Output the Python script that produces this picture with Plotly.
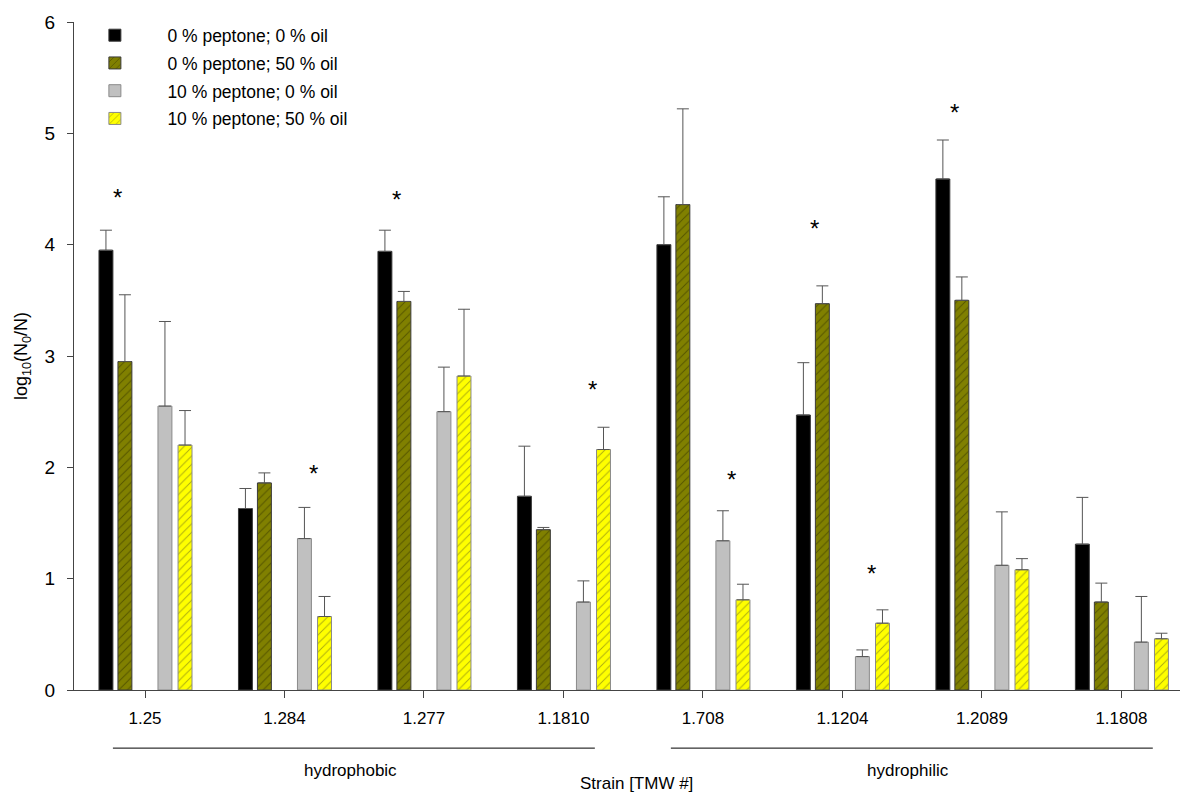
import plotly.graph_objects as go

strains = ["1.25", "1.284", "1.277", "1.1810", "1.708", "1.1204", "1.2089", "1.1808"]

# mean log10 reduction per treatment
p0_oil0 = [3.95, 1.63, 3.94, 1.74, 4.00, 2.47, 4.59, 1.31]
p0_oil50 = [2.95, 1.86, 3.49, 1.44, 4.36, 3.47, 3.50, 0.79]
p10_oil0 = [2.55, 1.36, 2.50, 0.79, 1.34, 0.30, 1.12, 0.43]
p10_oil50 = [2.20, 0.66, 2.82, 2.16, 0.81, 0.60, 1.08, 0.46]

# upper standard deviations
sd_p0_oil0 = [0.18, 0.18, 0.19, 0.45, 0.43, 0.47, 0.35, 0.42]
sd_p0_oil50 = [0.60, 0.09, 0.09, 0.02, 0.86, 0.16, 0.21, 0.17]
sd_p10_oil0 = [0.76, 0.28, 0.40, 0.19, 0.27, 0.06, 0.48, 0.41]
sd_p10_oil50 = [0.31, 0.18, 0.60, 0.20, 0.14, 0.12, 0.10, 0.05]

series_names = ["0 % peptone; 0 % oil", "0 % peptone; 50 % oil",
                "10 % peptone; 0 % oil", "10 % peptone; 50 % oil"]

# significance marks: (strain, pair, height); pair 0 = no peptone, 1 = 10 % peptone
sig_strain = ["1.25", "1.284", "1.277", "1.1810", "1.708", "1.1204", "1.1204", "1.2089"]
sig_pair = [0, 1, 0, 1, 1, 0, 1, 0]
sig_y = [4.47, 1.99, 4.45, 2.74, 1.94, 4.19, 1.09, 5.23]

groups = ["hydrophobic", "hydrophilic"]
group_first = [0, 4]
group_last = [3, 7]

values = [p0_oil0, p0_oil50, p10_oil0, p10_oil50]
errors = [sd_p0_oil0, sd_p0_oil50, sd_p10_oil0, sd_p10_oil50]

fills = ["#000000", "#808000", "#C0C0C0", "#FFFF00"]
outlines = ["#3a3a3a", "#3a3a3a", "#8a8a8a", "#8a8a8a"]
hatch = ["", "/", "", "/"]
hatch_col = ["#000000", "#2a2a00", "#C0C0C0", "#5a5a20"]
offsets = [-0.33, -0.194, 0.093, 0.237]
bar_w = 0.1

fig = go.Figure()
for i in range(4):
    fig.add_trace(go.Bar(
        x=strains, y=values[i], name=series_names[i],
        legendgroup=f"g{i}",
        offset=offsets[i], width=bar_w,
        marker=dict(
            color=fills[i],
            line=dict(color=outlines[i], width=1),
            pattern=dict(shape=hatch[i], fgcolor=hatch_col[i], bgcolor=fills[i],
                         size=6, solidity=0.16),
        ),
        error_y=dict(type="data", symmetric=False, array=errors[i],
                     arrayminus=[0] * len(strains),
                     color="#555555", thickness=1, width=6),
    ))

font_main = "Liberation Sans, Arial, sans-serif"

annotations = []
for s, p, yv in zip(sig_strain, sig_pair, sig_y):
    idx = strains.index(s)
    annotations.append(dict(
        x=idx + (-0.2 if p == 0 else 0.205), y=yv, xref="x", yref="y",
        text="*", showarrow=False, yanchor="middle", yshift=-5,
        font=dict(family=font_main, size=24, color="#000000"),
    ))

shapes = []
for name, a, b in zip(groups, group_first, group_last):
    shapes.append(dict(type="line", xref="x", yref="paper",
                       x0=a - 0.23, x1=b + 0.225, y0=-0.087, y1=-0.087,
                       line=dict(color="#000000", width=1)))
    annotations.append(dict(x=(a + b) / 2 - 0.03, y=-0.121, xref="x", yref="paper",
                            text=name, showarrow=False, yanchor="middle",
                            font=dict(family=font_main, size=17, color="#000000")))

annotations.append(dict(x=3.52, y=-0.14, xref="x", yref="paper",
                        text="Strain [TMW #]", showarrow=False, yanchor="middle",
                        font=dict(family=font_main, size=17, color="#000000")))

fig.update_layout(
    width=1180, height=794,
    margin=dict(l=74, r=0, t=22, b=104),
    paper_bgcolor="white", plot_bgcolor="white",
    barmode="overlay",
    showlegend=True,
    legend=dict(x=-0.0105, y=1.007, xanchor="left", yanchor="top",
                bgcolor="rgba(0,0,0,0)", tracegroupgap=2, itemwidth=95,
                font=dict(family=font_main, size=17.5, color="#000000")),
    annotations=annotations,
    shapes=shapes,
    font=dict(family=font_main, color="#000000"),
)

fig.update_xaxes(
    type="category", range=[-0.509, 7.42],
    showline=True, linecolor="#444444", linewidth=1,
    ticks="outside", ticklen=7, tickcolor="#444444",
    showgrid=False, zeroline=False,
    tickfont=dict(family=font_main, size=17, color="#000000"),
    ticklabelstandoff=6,
)
fig.update_yaxes(
    range=[0, 6], dtick=1,
    showline=True, linecolor="#444444", linewidth=1,
    ticks="outside", ticklen=6, tickcolor="#444444",
    showgrid=False, zeroline=False,
    tickfont=dict(family=font_main, size=19, color="#000000"),
    ticklabelstandoff=8,
    title=dict(text="log<sub>10</sub>(N<sub>0</sub>/N)", standoff=12,
               font=dict(family=font_main, size=18, color="#000000")),
)

fig.write_html("out.html")
